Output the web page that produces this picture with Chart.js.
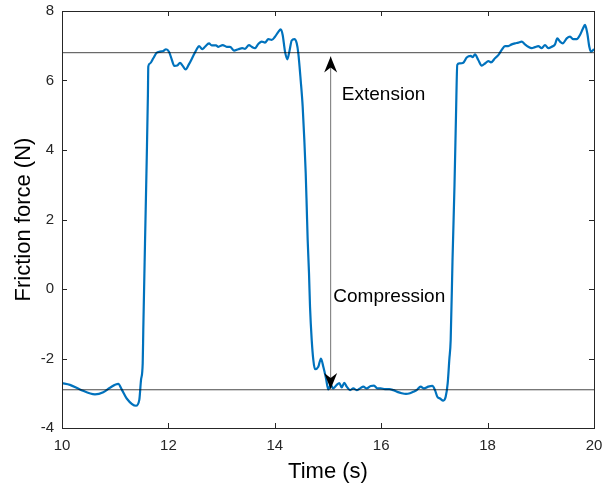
<!DOCTYPE html>
<html>
<head>
<meta charset="utf-8">
<title>Friction force</title>
<script src="https://cdn.jsdelivr.net/npm/chart.js@4.4.1/dist/chart.umd.min.js"></script>
<style>
  html, body { margin: 0; padding: 0; background: #ffffff; }
  canvas { display: block; }
</style>
</head>
<body>
<canvas id="chart" width="603" height="486"></canvas>
<script>
// time (s) and friction force (N)
var time = [
  10.000, 10.150, 10.338, 10.620, 10.776, 10.902, 11.058, 11.122, 11.216, 11.391,
  11.453, 11.485, 11.517, 11.528, 11.560, 11.592, 11.615, 11.622,
  11.654, 11.716, 11.780, 11.842, 11.904, 11.955, 12.011, 12.062, 12.111, 12.167,
  12.218, 12.269, 12.325, 12.387, 12.468, 12.532, 12.575, 12.637, 12.688, 12.763,
  12.814, 12.895, 12.938, 13.021, 13.096, 13.158, 13.233, 13.314, 13.389, 13.440,
  13.515, 13.566, 13.628, 13.690, 13.754, 13.816, 13.878, 13.942, 14.004, 14.066,
  14.111, 14.148, 14.192, 14.235, 14.273, 14.318, 14.367, 14.412, 14.442,
  14.487, 14.524, 14.555, 14.581, 14.600, 14.618, 14.643, 14.662, 14.694,
  14.724, 14.756, 14.818, 14.868, 14.912, 14.962, 15.006, 15.051, 15.100, 15.164,
  15.212, 15.258, 15.306, 15.352, 15.414, 15.476, 15.539, 15.602, 15.664, 15.727,
  15.803, 15.865, 15.927, 15.991, 16.071, 16.152, 16.227, 16.303, 16.385, 16.466,
  16.541, 16.603, 16.667, 16.742, 16.805, 16.885, 16.961, 17.011, 17.055, 17.105,
  17.167, 17.212, 17.250, 17.280, 17.306, 17.340, 17.378, 17.406, 17.430,
  17.468, 17.543, 17.607, 17.682, 17.720, 17.763, 17.825, 17.889, 17.951, 18.013,
  18.064, 18.139, 18.201, 18.265, 18.327, 18.389, 18.453, 18.515, 18.577, 18.641,
  18.703, 18.765, 18.829, 18.891, 18.953, 19.017, 19.079, 19.141, 19.205, 19.267,
  19.310, 19.361, 19.412, 19.487, 19.549, 19.611, 19.675, 19.737, 19.788, 19.831,
  19.874, 19.912, 19.944, 20.000
];
var force = [
  -2.71, -2.76, -2.89, -3.03, -2.97, -2.84, -2.73, -2.89, -3.15, -3.36,
  -3.19, -2.62, -2.14, -1.18, 1.30, 3.70, 5.60, 6.40,
  6.49, 6.64, 6.80, 6.83, 6.85, 6.90, 6.83, 6.61, 6.42, 6.43,
  6.51, 6.42, 6.32, 6.47, 6.71, 6.90, 6.99, 6.90, 6.97, 7.07,
  7.01, 7.01, 6.97, 7.02, 6.97, 6.97, 6.86, 6.90, 6.93, 6.91,
  7.02, 6.97, 6.93, 7.05, 7.12, 7.09, 7.19, 7.17, 7.26, 7.40,
  7.47, 7.31, 6.83, 6.61, 6.83, 7.15, 7.19, 7.07, 6.78,
  6.00, 5.25, 4.29, 3.33, 2.37, 1.41, 0.45, -0.51, -1.47,
  -2.04, -2.31, -2.24, -2.00, -2.24, -2.57, -2.89, -2.76, -2.86, -2.76,
  -2.71, -2.83, -2.70, -2.81, -2.91, -2.86, -2.91, -2.86, -2.81, -2.86,
  -2.79, -2.78, -2.86, -2.86, -2.88, -2.88, -2.91, -2.96, -3.00, -3.02,
  -3.00, -2.96, -2.91, -2.81, -2.86, -2.81, -2.79, -2.91, -3.10, -3.15,
  -3.21, -3.10, -2.71, -2.04, -1.47, 0.80, 3.00, 5.00, 6.45,
  6.49, 6.51, 6.66, 6.71, 6.67, 6.75, 6.59, 6.43, 6.49, 6.56,
  6.52, 6.64, 6.73, 6.88, 6.99, 6.99, 7.04, 7.07, 7.09, 7.12,
  7.04, 6.97, 6.93, 6.96, 6.99, 6.93, 7.02, 6.93, 6.97, 7.04,
  7.21, 7.12, 7.07, 7.21, 7.26, 7.19, 7.19, 7.31, 7.48, 7.60,
  7.36, 6.97, 6.83, 6.90
];

// reference levels and the double arrow between them
var levelTime = [10, 20];
var extensionLevel = 6.8;
var compressionLevel = -2.9;
var arrowTime = 15.05;
var arrowEnds = [-2.88, 6.69];

var notes = [
  { text: "Extension", x: 15.26, y: 5.6 },
  { text: "Compression", x: 15.10, y: -0.21 }
];

var xTicks = [10, 12, 14, 16, 18, 20];
var yTicks = [-4, -2, 0, 2, 4, 6, 8];

var FONT = "'Liberation Sans', Arial, Helvetica, sans-serif";
var AXIS = "#262626";
var BLUE = "#0072BD";

function points(xs, ys) {
  return xs.map(function (x, i) { return { x: x, y: ys[i] }; });
}

function fixTicks(list) {
  return function (scale) {
    scale.ticks = list.map(function (v) { return { value: v }; });
  };
}

// fixed axis size, no label overflow padding
function fitTo(size) {
  return function (s) {
    if (s.isHorizontal()) s.height = size; else s.width = size;
    s.paddingTop = 0; s.paddingBottom = 0;
    s.paddingLeft = 0; s.paddingRight = 0;
  };
}

// box, inward ticks, arrow heads and notes
var decorations = {
  id: "decorations",
  afterDraw: function (chart) {
    var ctx = chart.ctx;
    var a = chart.chartArea;
    var sx = chart.scales.x;
    var sy = chart.scales.y;
    ctx.save();

    // arrow heads (concave back)
    function head(px, py, dir) {
      var len = 16, half = 6.5, notch = 5;
      ctx.beginPath();
      ctx.moveTo(px, py);
      ctx.lineTo(px - half, py + dir * len);
      ctx.lineTo(px, py + dir * (len - notch));
      ctx.lineTo(px + half, py + dir * len);
      ctx.closePath();
      ctx.fillStyle = "#000000";
      ctx.fill();
    }
    var ax = sx.getPixelForValue(arrowTime);
    head(ax, sy.getPixelForValue(arrowEnds[1]), 1);
    head(ax, sy.getPixelForValue(arrowEnds[0]), -1);

    ctx.fillStyle = "#000000";
    ctx.font = "19px " + FONT;
    ctx.textAlign = "left";
    ctx.textBaseline = "middle";
    notes.forEach(function (n) {
      ctx.fillText(n.text, sx.getPixelForValue(n.x), sy.getPixelForValue(n.y));
    });

    ctx.strokeStyle = AXIS;
    ctx.lineWidth = 1;
    ctx.beginPath();
    xTicks.forEach(function (v) {
      var px = Math.round(sx.getPixelForValue(v)) + 0.5;
      ctx.moveTo(px, a.bottom); ctx.lineTo(px, a.bottom - 5);
      ctx.moveTo(px, a.top); ctx.lineTo(px, a.top + 5);
    });
    yTicks.forEach(function (v) {
      var py = Math.round(sy.getPixelForValue(v)) + 0.5;
      ctx.moveTo(a.left, py); ctx.lineTo(a.left + 5, py);
      ctx.moveTo(a.right, py); ctx.lineTo(a.right - 5, py);
    });
    ctx.stroke();
    ctx.strokeRect(Math.round(a.left) + 0.5, Math.round(a.top) + 0.5,
      Math.round(a.right - a.left), Math.round(a.bottom - a.top));
    ctx.restore();
  }
};

new Chart(document.getElementById("chart"), {
  type: "line",
  data: {
    datasets: [
      {
        data: points(levelTime, [extensionLevel, extensionLevel]),
        borderColor: "rgba(0,0,0,0.72)", borderWidth: 1, pointRadius: 0
      },
      {
        data: points(levelTime, [compressionLevel, compressionLevel]),
        borderColor: "rgba(0,0,0,0.72)", borderWidth: 1, pointRadius: 0
      },
      {
        data: points([arrowTime, arrowTime], arrowEnds),
        borderColor: "rgba(0,0,0,0.55)", borderWidth: 1, pointRadius: 0
      },
      {
        data: points(time, force),
        borderColor: BLUE, borderWidth: 2.2, pointRadius: 0,
        cubicInterpolationMode: "monotone"
      }
    ]
  },
  options: {
    responsive: false,
    animation: false,
    devicePixelRatio: 1,
    layout: { padding: { top: 11, right: 9, left: 0, bottom: 0 } },
    plugins: { legend: { display: false }, tooltip: { enabled: false } },
    scales: {
      x: {
        type: "linear", min: 10, max: 20,
        afterBuildTicks: fixTicks(xTicks),
        afterFit: fitTo(58),
        grid: { display: false, drawTicks: false },
        border: { display: false },
        ticks: { padding: 9, color: AXIS, font: { family: FONT, size: 15 }, maxRotation: 0 },
        title: {
          display: true, text: "Time (s)", color: "#000000",
          font: { family: FONT, size: 22 }, padding: { top: 0, bottom: 1 }
        }
      },
      y: {
        type: "linear", min: -4, max: 8,
        afterBuildTicks: fixTicks(yTicks),
        afterFit: fitTo(62),
        grid: { display: false, drawTicks: false },
        border: { display: false },
        ticks: { padding: 8, color: AXIS, font: { family: FONT, size: 15 } },
        title: {
          display: true, text: "Friction force (N)", color: "#000000",
          font: { family: FONT, size: 22 }, padding: { top: 11, bottom: 0 }
        }
      }
    }
  },
  plugins: [decorations]
});
</script>
</body>
</html>
